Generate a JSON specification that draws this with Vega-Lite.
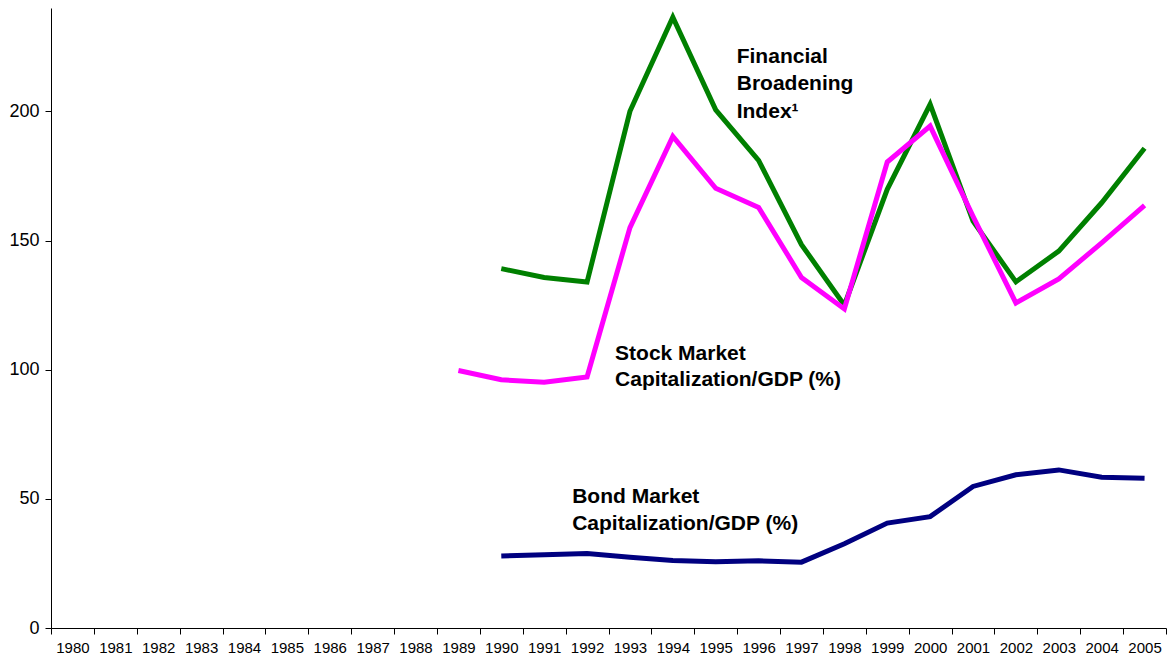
{
  "$schema": "https://vega.github.io/schema/vega-lite/v6.json",
  "width": 1115,
  "height": 620,
  "autosize": {"type": "none"},
  "padding": {"left": 51, "top": 8, "right": 3, "bottom": 34},
  "background": "white",
  "config": {
    "view": {"stroke": null},
    "font": "Liberation Sans"
  },
  "datasets": {
    "series": [
      {"year": 1990, "series": "Financial Broadening Index", "value": 139.1},
      {"year": 1991, "series": "Financial Broadening Index", "value": 135.7},
      {"year": 1992, "series": "Financial Broadening Index", "value": 133.9},
      {"year": 1993, "series": "Financial Broadening Index", "value": 200.0},
      {"year": 1994, "series": "Financial Broadening Index", "value": 236.4},
      {"year": 1995, "series": "Financial Broadening Index", "value": 200.6},
      {"year": 1996, "series": "Financial Broadening Index", "value": 181.0},
      {"year": 1997, "series": "Financial Broadening Index", "value": 148.4},
      {"year": 1998, "series": "Financial Broadening Index", "value": 125.0},
      {"year": 1999, "series": "Financial Broadening Index", "value": 169.8},
      {"year": 2000, "series": "Financial Broadening Index", "value": 202.7},
      {"year": 2001, "series": "Financial Broadening Index", "value": 157.5},
      {"year": 2002, "series": "Financial Broadening Index", "value": 134.0},
      {"year": 2003, "series": "Financial Broadening Index", "value": 145.9},
      {"year": 2004, "series": "Financial Broadening Index", "value": 164.6},
      {"year": 2005, "series": "Financial Broadening Index", "value": 185.7},
      {"year": 1989, "series": "Stock Market Capitalization/GDP (%)", "value": 99.7},
      {"year": 1990, "series": "Stock Market Capitalization/GDP (%)", "value": 96.1},
      {"year": 1991, "series": "Stock Market Capitalization/GDP (%)", "value": 95.1},
      {"year": 1992, "series": "Stock Market Capitalization/GDP (%)", "value": 97.2},
      {"year": 1993, "series": "Stock Market Capitalization/GDP (%)", "value": 155.0},
      {"year": 1994, "series": "Stock Market Capitalization/GDP (%)", "value": 190.3},
      {"year": 1995, "series": "Stock Market Capitalization/GDP (%)", "value": 170.2},
      {"year": 1996, "series": "Stock Market Capitalization/GDP (%)", "value": 162.8},
      {"year": 1997, "series": "Stock Market Capitalization/GDP (%)", "value": 135.7},
      {"year": 1998, "series": "Stock Market Capitalization/GDP (%)", "value": 123.5},
      {"year": 1999, "series": "Stock Market Capitalization/GDP (%)", "value": 180.4},
      {"year": 2000, "series": "Stock Market Capitalization/GDP (%)", "value": 194.3},
      {"year": 2001, "series": "Stock Market Capitalization/GDP (%)", "value": 159.4},
      {"year": 2002, "series": "Stock Market Capitalization/GDP (%)", "value": 125.8},
      {"year": 2003, "series": "Stock Market Capitalization/GDP (%)", "value": 135.1},
      {"year": 2004, "series": "Stock Market Capitalization/GDP (%)", "value": 149.1},
      {"year": 2005, "series": "Stock Market Capitalization/GDP (%)", "value": 163.6},
      {"year": 1990, "series": "Bond Market Capitalization/GDP (%)", "value": 27.9},
      {"year": 1991, "series": "Bond Market Capitalization/GDP (%)", "value": 28.4},
      {"year": 1992, "series": "Bond Market Capitalization/GDP (%)", "value": 28.8},
      {"year": 1993, "series": "Bond Market Capitalization/GDP (%)", "value": 27.4},
      {"year": 1994, "series": "Bond Market Capitalization/GDP (%)", "value": 26.1},
      {"year": 1995, "series": "Bond Market Capitalization/GDP (%)", "value": 25.6},
      {"year": 1996, "series": "Bond Market Capitalization/GDP (%)", "value": 26.0},
      {"year": 1997, "series": "Bond Market Capitalization/GDP (%)", "value": 25.5},
      {"year": 1998, "series": "Bond Market Capitalization/GDP (%)", "value": 32.6},
      {"year": 1999, "series": "Bond Market Capitalization/GDP (%)", "value": 40.6},
      {"year": 2000, "series": "Bond Market Capitalization/GDP (%)", "value": 43.1},
      {"year": 2001, "series": "Bond Market Capitalization/GDP (%)", "value": 54.8},
      {"year": 2002, "series": "Bond Market Capitalization/GDP (%)", "value": 59.3},
      {"year": 2003, "series": "Bond Market Capitalization/GDP (%)", "value": 61.2},
      {"year": 2004, "series": "Bond Market Capitalization/GDP (%)", "value": 58.4},
      {"year": 2005, "series": "Bond Market Capitalization/GDP (%)", "value": 58.0}
    ],
    "labels": [
      {"year": 1995, "value": 218.8, "group": "a", "label": "Financial\nBroadening\nIndex¹"},
      {"year": 1992, "value": 103.9, "group": "b", "label": "Stock Market\nCapitalization/GDP (%)"},
      {"year": 1991, "value": 48.3, "group": "b", "label": "Bond Market\nCapitalization/GDP (%)"}
    ]
  },
  "encoding": {
    "x": {
      "field": "year",
      "type": "ordinal",
      "bandPosition": 0.5,
      "scale": {
        "type": "band",
        "paddingInner": 0,
        "paddingOuter": 0,
        "domain": [1980, 1981, 1982, 1983, 1984, 1985, 1986, 1987, 1988, 1989, 1990, 1991, 1992, 1993, 1994, 1995, 1996, 1997, 1998, 1999, 2000, 2001, 2002, 2003, 2004, 2005]
      },
      "axis": {
        "title": null,
        "tickBand": "extent",
        "labelAngle": 0,
        "labelFontSize": 15,
        "labelColor": "#000000",
        "labelPadding": 6,
        "tickSize": 6,
        "tickColor": "#000000",
        "domainColor": "#000000",
        "grid": false
      }
    },
    "y": {
      "field": "value",
      "type": "quantitative",
      "scale": {"domain": [0, 240], "nice": false, "zero": true},
      "axis": {
        "title": null,
        "values": [0, 50, 100, 150, 200],
        "labelFontSize": 18,
        "labelColor": "#000000",
        "labelPadding": 6,
        "tickSize": 6,
        "tickColor": "#000000",
        "domainColor": "#000000",
        "grid": false
      }
    }
  },
  "layer": [
    {
      "data": {"name": "series"},
      "mark": {"type": "line", "strokeWidth": 5, "strokeCap": "butt", "strokeJoin": "miter"},
      "encoding": {
        "color": {
          "field": "series",
          "type": "nominal",
          "scale": {
            "domain": ["Financial Broadening Index", "Stock Market Capitalization/GDP (%)", "Bond Market Capitalization/GDP (%)"],
            "range": ["#008000", "#ff00ff", "#000080"]
          },
          "legend": null
        }
      }
    },
    {
      "data": {"name": "labels"},
      "transform": [{"filter": "datum.group === 'a'"}],
      "mark": {"type": "text", "align": "left", "baseline": "alphabetic", "dx": 21, "fontSize": 21, "fontWeight": "bold", "lineBreak": "\n", "lineHeight": 27.5, "color": "#000000"},
      "encoding": {"text": {"field": "label"}}
    },
    {
      "data": {"name": "labels"},
      "transform": [{"filter": "datum.group === 'b'"}],
      "mark": {"type": "text", "align": "left", "baseline": "alphabetic", "dx": 28, "fontSize": 21, "fontWeight": "bold", "lineBreak": "\n", "lineHeight": 26.5, "color": "#000000"},
      "encoding": {"text": {"field": "label"}}
    }
  ]
}
